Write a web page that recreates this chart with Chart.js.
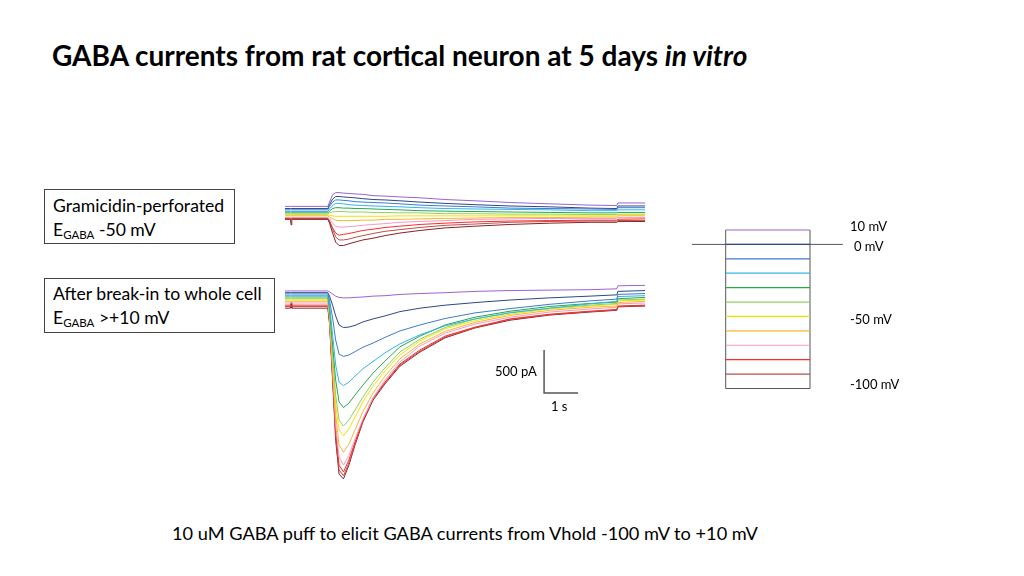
<!DOCTYPE html>
<html>
<head>
<meta charset="utf-8">
<title>GABA currents</title>
<script src="https://cdn.jsdelivr.net/npm/chart.js@4.4.0/dist/chart.umd.min.js"></script>
<style>
  html, body { margin: 0; padding: 0; background: #fff; }
  body { width: 1024px; height: 576px; position: relative; overflow: hidden;
         font-family: Lato, "Open Sans", sans-serif; color: #000; }
  .txt { position: absolute; white-space: nowrap; }
  #title { left: 52px; top: 37px; font-size: 28px; font-weight: bold; line-height: 36px; }
  .box { position: absolute; border: 1px solid #444; box-sizing: border-box;
         padding: 4px 0 0 8px; font-size: 17.6px; line-height: 24px; white-space: nowrap; }
  .box sub { font-size: 11.5px; vertical-align: -3px; line-height: 0; }
  #box1 { left: 44px; top: 189px; width: 191px; height: 55px; }
  #box2 { left: 44px; top: 278px; width: 231px; height: 55px; padding-top: 3px; }
  #caption { left: 172px; top: 521px; font-size: 18.2px; line-height: 24px; }
  .small { font-size: 13px; line-height: 16px; }
  canvas { position: absolute; }
</style>
</head>
<body>
<div id="title" class="txt">GABA currents from rat cortical neuron at 5 days <i>in vitro</i></div>

<div id="box1" class="box">Gramicidin-perforated<br>E<sub>GABA</sub> -50 mV</div>
<div id="box2" class="box">After break-in to whole cell<br>E<sub>GABA</sub> &gt;+10 mV</div>

<canvas id="perfChart" width="391" height="80" style="left:268px; top:180px;"></canvas>
<canvas id="wholeChart" width="391" height="215" style="left:268px; top:278px;"></canvas>
<canvas id="stepChart" width="200" height="180" style="left:680px; top:220px;"></canvas>

<div class="txt small" style="left:495px; top:363px;">500 pA</div>
<div class="txt small" style="left:551px; top:398px;">1 s</div>

<div class="txt small" style="left:850px; top:218px;">10 mV</div>
<div class="txt small" style="left:854px; top:238px;">0 mV</div>
<div class="txt small" style="left:850px; top:311px;">-50 mV</div>
<div class="txt small" style="left:850px; top:376px;">-100 mV</div>

<div id="caption" class="txt">10 uM GABA puff to elicit GABA currents from Vhold -100 mV to +10 mV</div>

<script>
// Sample times (s) shared by every trace
const times = [0, 0.16, 0.18, 0.2, 1.26, 1.31, 1.40, 1.49, 1.59, 1.72, 1.88, 2.06, 2.29,
               2.59, 2.94, 3.38, 3.97, 4.71, 5.59, 6.62, 7.79, 8.97, 9.76, 9.79, 10.59];

// Holding potentials (mV)
const holdPotentials = [10, 0, -10, -20, -30, -40, -50, -60, -70, -80, -90, -100];

// Gramicidin-perforated currents (pA), one array per holding potential
const perf_p10  = [100, 100, 100, 100, 100, 150, 235, 260, 260, 255, 250, 245, 240, 225, 220, 210, 200, 180, 165, 145, 130, 115, 110, 140, 140];
const perf_0    = [75, 75, 75, 75, 75, 120, 185, 215, 215, 210, 205, 200, 190, 180, 175, 165, 150, 135, 120, 105, 95, 80, 75, 105, 105];
const perf_m10  = [60, 60, 60, 60, 60, 100, 150, 175, 175, 170, 165, 155, 150, 145, 140, 130, 115, 105, 95, 80, 75, 70, 65, 85, 85];
const perf_m20  = [40, 40, 40, 40, 40, 70, 110, 135, 135, 130, 120, 115, 110, 105, 100, 95, 85, 75, 70, 65, 60, 50, 50, 60, 60];
const perf_m30  = [25, 25, 25, 25, 25, 45, 75, 85, 85, 80, 80, 75, 75, 70, 65, 60, 50, 45, 40, 35, 30, 25, 25, 30, 30];
const perf_m40  = [10, 10, 10, 10, 10, 25, 35, 40, 40, 40, 35, 35, 35, 30, 30, 25, 25, 15, 15, 10, 10, 5, 5, 10, 10];
const perf_m50  = [0, 0, 0, 0, 0, -5, -10, -15, -15, -15, -15, -15, -15, -15, -15, -10, -10, -10, -10, -10, -10, -10, -10, 0, 0];
const perf_m60  = [-10, -10, -10, -10, -10, -25, -45, -60, -65, -65, -65, -65, -60, -60, -50, -50, -45, -40, -35, -30, -30, -25, -25, -10, -10];
const perf_m70  = [-30, -30, -30, -30, -30, -45, -95, -130, -140, -140, -135, -130, -120, -110, -100, -85, -75, -65, -50, -45, -40, -40, -40, -30, -30];
const perf_m80  = [-40, -40, -40, -40, -40, -70, -150, -210, -235, -225, -215, -200, -180, -165, -145, -130, -110, -95, -80, -70, -65, -60, -60, -50, -45];
const perf_m90  = [-45, -45, -45, -45, -45, -75, -165, -255, -290, -290, -280, -260, -240, -215, -190, -170, -145, -120, -105, -85, -75, -70, -70, -65, -65];
const perf_m100 = [-50, -50, -115, -50, -50, -95, -210, -315, -355, -355, -335, -315, -290, -270, -240, -210, -180, -150, -130, -110, -95, -85, -85, -75, -75];

// Whole-cell currents after break-in (pA)
const whole_p10  = [105, 105, 105, 105, 105, 95, 70, 45, 30, 25, 25, 30, 35, 45, 50, 65, 75, 85, 100, 110, 115, 120, 130, 165, 170];
const whole_0    = [85, 85, 85, 85, 85, 45, -60, -185, -290, -320, -315, -295, -255, -220, -185, -135, -95, -60, -30, 0, 25, 45, 60, 100, 110];
const whole_m10  = [70, 70, 70, 70, 70, 0, -210, -465, -630, -655, -640, -600, -550, -500, -435, -360, -290, -215, -150, -100, -50, -10, 10, 65, 75];
const whole_m20  = [50, 50, 50, 50, 50, -60, -405, -755, -955, -995, -955, -885, -800, -715, -615, -510, -405, -300, -220, -150, -95, -45, -15, 40, 50];
const whole_m30  = [35, 35, 35, 35, 35, -115, -525, -930, -1185, -1250, -1200, -1105, -990, -850, -710, -545, -420, -290, -200, -130, -75, -40, -25, 15, 30];
const whole_m40  = [15, 15, 15, 15, 15, -140, -640, -1105, -1395, -1465, -1395, -1280, -1130, -955, -790, -605, -455, -320, -220, -145, -95, -60, -40, 0, 10];
const whole_m50  = [0, 0, 0, 0, 0, -165, -700, -1220, -1510, -1580, -1500, -1360, -1185, -1000, -825, -640, -475, -335, -240, -165, -105, -70, -50, -10, 0];
const whole_m60  = [-15, -15, -15, -15, -15, -185, -755, -1335, -1685, -1770, -1675, -1510, -1300, -1080, -885, -685, -510, -365, -260, -180, -120, -85, -70, -30, -15];
const whole_m70  = [-35, -35, -35, -35, -35, -210, -815, -1455, -1825, -1920, -1805, -1615, -1385, -1140, -930, -720, -535, -385, -280, -200, -140, -105, -85, -45, -35];
const whole_m80  = [-60, -60, -60, -60, -60, -235, -870, -1510, -1920, -2000, -1860, -1650, -1395, -1140, -955, -745, -580, -420, -315, -220, -165, -130, -110, -70, -60];
const whole_m90  = [-75, -75, -75, -75, -75, -255, -905, -1570, -1975, -2045, -1895, -1675, -1405, -1150, -965, -755, -595, -430, -320, -225, -170, -135, -115, -75, -65];
const whole_m100 = [-95, -95, -30, -95, -95, -280, -930, -1630, -2025, -2080, -1920, -1685, -1420, -1165, -975, -770, -605, -440, -325, -235, -175, -140, -120, -80, -70];

// Scale bar: 500 pA by 1 s
const scaleBarT = [7.62, 7.62, 8.62];
const scaleBarI = [-580, -1080, -1080];

const perfTraces  = [perf_p10, perf_0, perf_m10, perf_m20, perf_m30, perf_m40, perf_m50, perf_m60, perf_m70, perf_m80, perf_m90, perf_m100];
const wholeTraces = [whole_p10, whole_0, whole_m10, whole_m20, whole_m30, whole_m40, whole_m50, whole_m60, whole_m70, whole_m80, whole_m90, whole_m100];

// Colours, one per holding potential
const traceColors = ['#9b62d2', '#2b4884', '#3d7bcb', '#33b3ea', '#25a94b', '#92cf62',
                     '#f0e400', '#f6b632', '#f59ac2', '#ff2b2b', '#b85050', '#8d2020'];
const frameColor = '#555555';

// Layout (pixels)
const PA_PER_PX = 500 / 43;
const PX_PER_S = 34;

function toPoints(xs, ys) {
    return xs.map((x, i) => ({ x: x, y: ys[i] }));
}

function baseOptions(xMin, xMax, yMin, yMax) {
    return {
        responsive: false,
        animation: false,
        events: [],
        layout: { padding: 0 },
        plugins: { legend: { display: false }, tooltip: { enabled: false } },
        elements: { point: { radius: 0 }, line: { tension: 0 } },
        scales: {
            x: { type: 'linear', display: false, min: xMin, max: xMax },
            y: { type: 'linear', display: false, min: yMin, max: yMax }
        }
    };
}

function traceDatasets(traces) {
    return traces.map((trace, i) => ({
        label: holdPotentials[i] + ' mV',
        data: toPoints(times, trace),
        borderColor: traceColors[i],
        borderWidth: 1,
        fill: false
    }));
}

// Time axis: t = 0 sits 17 px from the canvas left edge
const xMin = -17 / PX_PER_S;
const xMax = (391 - 17) / PX_PER_S;

// Perforated traces, 0 pA at 35 px from the top of an 80 px canvas
new Chart(document.getElementById('perfChart'), {
    type: 'line',
    data: { datasets: traceDatasets(perfTraces).reverse() },
    options: baseOptions(xMin, xMax, -(80 - 35) * PA_PER_PX, 35 * PA_PER_PX)
});

// Whole-cell traces plus the scale bar, 0 pA at 22 px from the top of a 215 px canvas
const wholeSets = traceDatasets(wholeTraces);
wholeSets.unshift({
    label: 'scale',
    data: toPoints(scaleBarT, scaleBarI),
    borderColor: frameColor,
    borderWidth: 1.5,
    fill: false
});
new Chart(document.getElementById('wholeChart'), {
    type: 'line',
    data: { datasets: wholeSets },
    options: baseOptions(xMin, xMax, -(215 - 22) * PA_PER_PX, 22 * PA_PER_PX)
});

// Voltage protocol diagram
const stepStart = 0, stepEnd = 1;
const stepSets = holdPotentials.slice(0, 11).map((v, i) => ({
    label: v + ' mV',
    data: [{ x: stepStart, y: v }, { x: stepEnd, y: v }],
    borderColor: traceColors[i],
    borderWidth: 1.2
}));
const frameLines = [
    [{ x: stepStart, y: -100 }, { x: stepStart, y: 10 }],
    [{ x: stepEnd, y: -100 }, { x: stepEnd, y: 10 }],
    [{ x: stepStart, y: -100 }, { x: stepEnd, y: -100 }],
    [{ x: -0.4, y: 0 }, { x: 1.39, y: 0 }]
];
frameLines.forEach(pts => stepSets.push({ data: pts, borderColor: frameColor, borderWidth: 1 }));

// Step box spans 725.7-810 px; 10 mV steps are 14.41 px; -100 mV at 388.5 px
const stepPx = 810 - 725.7;
const mvPx = 1.441;
new Chart(document.getElementById('stepChart'), {
    type: 'line',
    data: { datasets: stepSets },
    options: baseOptions(-(725.7 - 680) / stepPx, (880 - 725.7) / stepPx,
                         -100 - (400 - 388.5) / mvPx, -100 + (388.5 - 220) / mvPx)
});
</script>
</body>
</html>
